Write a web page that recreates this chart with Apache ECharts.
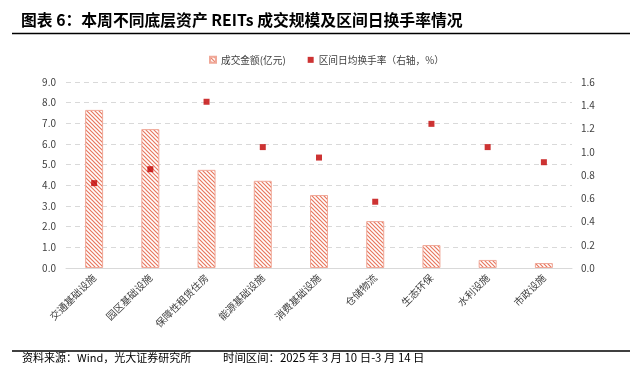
<!DOCTYPE html>
<html>
<head>
<meta charset="utf-8">
<script src="https://cdn.jsdelivr.net/npm/echarts@6/dist/echarts.min.js"></script>
<style>
  html, body { margin: 0; padding: 0; background: #fff; }
  #chart { width: 640px; height: 375px; }
</style>
</head>
<body>
<div id="chart"></div>
<script>
// 底层资产类别
var categories = ['交通基础设施', '园区基础设施', '保障性租赁住房', '能源基础设施', '消费基础设施', '仓储物流', '生态环保', '水利设施', '市政设施'];
// 成交金额(亿元)
var amountData = [7.65, 6.72, 4.75, 4.22, 3.53, 2.27, 1.11, 0.39, 0.24];
// 区间日均换手率(%)
var turnoverData = [0.73, 0.85, 1.43, 1.04, 0.95, 0.57, 1.24, 1.04, 0.91];

var fontCN = '"Noto Sans CJK SC", "Noto Sans", sans-serif';

// 斜线填充
function makeHatch() {
    var c = document.createElement('canvas');
    c.width = 4;
    c.height = 4;
    var ctx = c.getContext('2d');
    ctx.fillStyle = '#ffffff';
    ctx.fillRect(0, 0, 4, 4);
    ctx.strokeStyle = '#E8775E';
    ctx.lineWidth = 1.2;
    ctx.beginPath();
    ctx.moveTo(0, 0); ctx.lineTo(4, 4);
    ctx.moveTo(-2, 2); ctx.lineTo(2, 6);
    ctx.moveTo(2, -2); ctx.lineTo(6, 2);
    ctx.stroke();
    return c;
}

var myChart = echarts.init(document.getElementById('chart'));

var option = {
    animation: false,
    textStyle: { fontFamily: fontCN },
    legend: {
        top: 50,
        left: 204,
        itemWidth: 6,
        itemHeight: 6,
        itemGap: 22,
        textStyle: { fontSize: 9.7, color: '#404040', fontFamily: fontCN },
        data: [
            { name: '成交金额(亿元)', icon: 'rect' },
            { name: '区间日均换手率（右轴，%）', icon: 'rect' }
        ]
    },
    grid: { left: 66, right: 68, top: 82, bottom: 107 },
    xAxis: {
        type: 'category',
        data: categories,
        axisLine: { lineStyle: { color: '#d9d9d9' } },
        axisTick: { show: false },
        axisLabel: { rotate: 45, fontSize: 10, color: '#404040', interval: 0, margin: 8 }
    },
    yAxis: [{
        type: 'value',
        min: 0,
        max: 9,
        interval: 1,
        axisLine: { show: false },
        axisTick: { show: false },
        axisLabel: { fontSize: 10, color: '#404040', margin: 10, formatter: function (v) { return v.toFixed(1); } },
        splitLine: { lineStyle: { color: '#d9d9d9', type: [5, 4] } }
    }, {
        type: 'value',
        min: 0,
        max: 1.6,
        interval: 0.2,
        axisLine: { show: false },
        axisTick: { show: false },
        axisLabel: { fontSize: 10, color: '#404040', margin: 9, formatter: function (v) { return v.toFixed(1); } },
        splitLine: { show: false }
    }],
    series: [{
        name: '成交金额(亿元)',
        type: 'bar',
        data: amountData,
        barWidth: 18,
        itemStyle: {
            color: { image: makeHatch(), repeat: 'repeat' },
            borderColor: '#F0A898',
            borderWidth: 1
        }
    }, {
        name: '区间日均换手率（右轴，%）',
        type: 'scatter',
        yAxisIndex: 1,
        data: turnoverData,
        symbol: 'rect',
        symbolSize: 6,
        itemStyle: { color: '#C00000' }
    }],
    graphic: [
        {
            type: 'text', left: 21, top: 12,
            style: { text: '图表 6：本周不同底层资产 REITs 成交规模及区间日换手率情况', font: 'bold 15.8px ' + fontCN, fill: '#000' }
        },
        {
            type: 'line', shape: { x1: 12, y1: 33.5, x2: 630, y2: 33.5 },
            style: { stroke: '#000', lineWidth: 1.5 }
        },
        {
            type: 'line', shape: { x1: 12, y1: 351, x2: 630, y2: 351 },
            style: { stroke: '#000', lineWidth: 1.5 }
        },
        {
            type: 'text', left: 22, top: 352,
            style: { text: '资料来源：Wind，光大证券研究所', font: '11px ' + fontCN, fill: '#000' }
        },
        {
            type: 'text', left: 223, top: 352,
            style: { text: '时间区间：2025 年 3 月 10 日-3 月 14 日', font: '11.4px ' + fontCN, fill: '#000' }
        }
    ]
};

myChart.setOption(option);
</script>
</body>
</html>
